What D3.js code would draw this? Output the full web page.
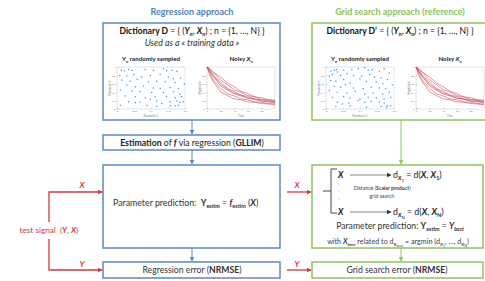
<!DOCTYPE html>
<html>
<head>
<meta charset="utf-8">
<script src="https://cdn.jsdelivr.net/npm/d3@7"></script>
<style>
  body { margin: 0; background: #fff; }
  svg text { font-family: Lato, "Open Sans", sans-serif; white-space: pre; }
</style>
</head>
<body>
<svg id="canvas" width="485" height="281"></svg>
<script>
// --- data ---
let titles = ['Regression approach', 'Grid search approach (reference)']
let scatterTicksX = [0, 0.05, 0.1, 0.15, 0.2]
let scatterTicksY = [0, 0.2, 0.4, 0.6, 0.8, 1]
let timeTicks = [0, 20, 40, 60, 80]
let ampTicks = [0, 0.2, 0.4, 0.6, 0.8, 1]
let times = [0, 5, 10, 20, 30, 40, 50, 60, 70, 80, 90, 100]
let curves = [
  [1.00, 0.86, 0.75, 0.55, 0.45, 0.36, 0.31, 0.26, 0.23, 0.19, 0.17, 0.15],
  [1.00, 0.91, 0.79, 0.64, 0.49, 0.42, 0.33, 0.30, 0.24, 0.22, 0.20, 0.17],
  [1.00, 0.82, 0.67, 0.49, 0.36, 0.31, 0.24, 0.22, 0.17, 0.16, 0.13, 0.12],
  [1.00, 0.93, 0.86, 0.69, 0.58, 0.46, 0.40, 0.32, 0.29, 0.23, 0.22, 0.19],
  [1.00, 0.77, 0.63, 0.41, 0.32, 0.24, 0.22, 0.17, 0.16, 0.13, 0.12, 0.10],
  [1.00, 0.95, 0.87, 0.76, 0.62, 0.53, 0.42, 0.37, 0.29, 0.27, 0.22, 0.21],
  [1.00, 0.88, 0.78, 0.59, 0.48, 0.38, 0.33, 0.26, 0.24, 0.19, 0.18, 0.16]
]
let pointsD = [
  [0.013, 0.92], [0.022, 0.91], [0.034, 0.94], [0.044, 0.92], [0.083, 0.94], [0.107, 0.92], [0.137, 0.96], [0.146, 0.91], [0.161, 0.92], [0.176, 0.90],
  [0.008, 0.80], [0.029, 0.79], [0.049, 0.82], [0.073, 0.76], [0.098, 0.80], [0.127, 0.82], [0.151, 0.76], [0.166, 0.72], [0.187, 0.74],
  [0.015, 0.69], [0.039, 0.66], [0.059, 0.71], [0.093, 0.65], [0.117, 0.66], [0.142, 0.65], [0.171, 0.63], [0.198, 0.59],
  [0.029, 0.57], [0.054, 0.53], [0.078, 0.55], [0.107, 0.50], [0.127, 0.49], [0.156, 0.51], [0.181, 0.49],
  [0.010, 0.45], [0.044, 0.43], [0.068, 0.41], [0.102, 0.39], [0.137, 0.39], [0.166, 0.41], [0.185, 0.35],
  [0.024, 0.31], [0.054, 0.29], [0.083, 0.27], [0.112, 0.30], [0.146, 0.29], [0.171, 0.27], [0.190, 0.29],
  [0.034, 0.17], [0.054, 0.15], [0.068, 0.16], [0.098, 0.23], [0.117, 0.19], [0.132, 0.13], [0.156, 0.17], [0.176, 0.19], [0.185, 0.16], [0.195, 0.17],
  [0.010, 0.09], [0.088, 0.09], [0.117, 0.06], [0.156, 0.08], [0.171, 0.08], [0.181, 0.09]
]
let pointsD2 = [
  [0.014, 0.90], [0.024, 0.92], [0.031, 0.94], [0.033, 0.88], [0.052, 0.92], [0.076, 0.94], [0.095, 0.96], [0.114, 0.98], [0.124, 0.92], [0.136, 0.94], [0.157, 0.90], [0.171, 0.96], [0.186, 0.86],
  [0.010, 0.78], [0.019, 0.82], [0.043, 0.80], [0.062, 0.84], [0.081, 0.80], [0.105, 0.78], [0.129, 0.82], [0.143, 0.76], [0.162, 0.74], [0.181, 0.70],
  [0.014, 0.68], [0.029, 0.66], [0.052, 0.70], [0.071, 0.62], [0.100, 0.72], [0.119, 0.66], [0.148, 0.64], [0.167, 0.60], [0.195, 0.58],
  [0.024, 0.54], [0.043, 0.52], [0.057, 0.58], [0.081, 0.50], [0.110, 0.48], [0.133, 0.52], [0.157, 0.50], [0.176, 0.48],
  [0.010, 0.44], [0.033, 0.40], [0.062, 0.38], [0.086, 0.42], [0.114, 0.36], [0.138, 0.38], [0.167, 0.36], [0.186, 0.40],
  [0.019, 0.28], [0.052, 0.30], [0.071, 0.26], [0.100, 0.24], [0.124, 0.28], [0.148, 0.26], [0.171, 0.24], [0.190, 0.28],
  [0.033, 0.16], [0.048, 0.12], [0.067, 0.14], [0.095, 0.20], [0.114, 0.16], [0.133, 0.18], [0.157, 0.16], [0.171, 0.14], [0.181, 0.08], [0.190, 0.08],
  [0.029, 0.06], [0.071, 0.08], [0.119, 0.04], [0.162, 0.06], [0.178, 0.04]
]

// --- colours ---
let blue = '#5b88c4'
let blueTitle = '#4f81bd'
let green = '#8fc563'
let greenTitle = '#8cc25c'
let red = '#d33a3f'
let dark = '#333'

let svg = d3.select('#canvas')
let defs = svg.append('defs')

let addMarker = (id, color) => {
  defs.append('marker')
    .attr('id', id)
    .attr('viewBox', '0 0 10 10')
    .attr('refX', 9).attr('refY', 5)
    .attr('markerUnits', 'userSpaceOnUse')
    .attr('markerWidth', 5).attr('markerHeight', 5)
    .attr('orient', 'auto')
    .append('path')
    .attr('d', 'M0,0 L10,5 L0,10 z')
    .attr('fill', color)
}
addMarker('arBlue', blue)
addMarker('arGreen', green)
addMarker('arRed', red)
addMarker('arDark', dark)

// rich text: segments of [text, style]; style letters b=bold i=italic 1=sub 2=subsub
let richText = (x, y, anchor, size, color, segs) => {
  let t = svg.append('text')
    .attr('x', x).attr('y', y)
    .attr('text-anchor', anchor)
    .attr('font-size', size)
    .attr('fill', color)
  let cur = 0
  segs.forEach(([s, st]) => {
    st = st || ''
    let lv = st.includes('2') ? 2 : (st.includes('1') ? 1 : 0)
    let shift = [0, size * 0.28, size * 0.48][lv]
    let fs = [size, size * 0.62, size * 0.5][lv]
    t.append('tspan')
      .attr('dy', shift - cur)
      .attr('font-size', fs)
      .attr('font-weight', st.includes('b') ? 'bold' : 'normal')
      .attr('font-style', st.includes('i') ? 'italic' : 'normal')
      .text(s)
    cur = shift
  })
  return t
}

let box = (x, y, w, h, color) => {
  svg.append('rect')
    .attr('x', x).attr('y', y)
    .attr('width', w).attr('height', h)
    .attr('fill', 'none')
    .attr('stroke', color)
    .attr('stroke-width', 1.5)
}

let arrow = (d, color, marker, width) => {
  svg.append('path')
    .attr('d', d)
    .attr('fill', 'none')
    .attr('stroke', color)
    .attr('stroke-width', width || 1)
    .attr('marker-end', 'url(#' + marker + ')')
}

// tiny matlab-like axes
let miniAxes = (x0, y0, w, h, xDom, yDom, xt, yt, xLab, yLab) => {
  let g = svg.append('g').attr('transform', 'translate(' + x0 + ',' + y0 + ')')
  let xs = d3.scaleLinear().domain(xDom).range([0, w])
  let ys = d3.scaleLinear().domain(yDom).range([h, 0])
  g.append('rect').attr('width', w).attr('height', h)
    .attr('fill', '#fff').attr('stroke', '#c8c8c8').attr('stroke-width', 0.5)
  let ax = g.append('g').attr('transform', 'translate(0,' + h + ')')
    .call(d3.axisBottom(xs).tickValues(xt).tickSize(-1.2).tickPadding(1.5).tickFormat(d3.format('~g')))
  let ay = g.append('g')
    .call(d3.axisLeft(ys).tickValues(yt).tickSize(-1.2).tickPadding(1.5).tickFormat(d3.format('~g')))
  ;[ax, ay].forEach(a => {
    a.select('.domain').remove()
    a.selectAll('line').attr('stroke', '#999').attr('stroke-width', 0.4)
    a.selectAll('text').attr('font-size', 2.6).attr('fill', '#777')
  })
  g.append('text').attr('x', w / 2).attr('y', h + 8)
    .attr('text-anchor', 'middle').attr('font-size', 2.8).attr('fill', '#777').text(xLab)
  g.append('text').attr('transform', 'translate(-6,' + (h / 2) + ') rotate(-90)')
    .attr('text-anchor', 'middle').attr('font-size', 2.8).attr('fill', '#777').text(yLab)
  return { g, xs, ys }
}

let topPanel = (bx, pts) => {
  let sc = miniAxes(bx + 14, 67, 68, 42, [0, 0.2], [0, 1], scatterTicksX, scatterTicksY, 'Parameter 1', 'Parameter 2')
  sc.g.selectAll('circle').data(pts).enter().append('circle')
    .attr('cx', d => sc.xs(d[0]))
    .attr('cy', d => sc.ys(d[1]))
    .attr('r', 0.75)
    .attr('fill', '#3d9be3')
  richText(bx + 48, 61, 'middle', 6.2, '#222', [['Y', 'b'], ['n', 'b1'], [' randomly sampled', 'b']])

  let nx = miniAxes(bx + 104, 67, 68, 42, [0, 100], [0, 1], timeTicks, ampTicks, 'Time', 'Magnitude')
  let line = d3.line().x((d, i) => nx.xs(times[i])).y(d => nx.ys(d))
  nx.g.selectAll('path.curve').data(curves).enter().append('path')
    .attr('class', 'curve')
    .attr('d', line)
    .attr('fill', 'none')
    .attr('stroke', '#c8505e')
    .attr('stroke-width', 0.6)
  richText(bx + 138, 61, 'middle', 6.2, '#222', [['Noisy ', 'b'], ['X', 'bi'], ['n', 'b1']])
}

// --- left column: regression approach ---
let L = 103, R = 312
svg.append('text').attr('x', 192).attr('y', 15).attr('text-anchor', 'middle')
  .attr('font-size', 9).attr('font-weight', 'bold').attr('fill', blueTitle).text(titles[0])
box(L, 23, 177, 97, blue)
richText(192, 34, 'middle', 8.6, '#111', [['Dictionary D', 'b'], [' = { ('], ['Y', 'bi'], ['n', 'bi1'], [', '], ['X', 'bi'], ['n', 'bi1'], [') ; n = {1, …, N} }']])
richText(192, 46, 'middle', 8.8, '#333', [['Used as a « training data »', 'i']])
topPanel(L, pointsD)

box(L, 135, 177, 15, blue)
richText(192, 145.5, 'middle', 8.7, '#222', [['Estimation', 'b'], [' of '], ['f', 'bi'], [' via regression ('], ['GLLIM', 'b'], [')']])

box(L, 165, 177, 83, blue)
richText(113, 206, 'start', 8.8, '#333', [['Parameter prediction:  '], ['Y', 'b'], ['estim', 'b1'], [' = '], ['f', 'bi'], ['estim', 'b1'], [' ('], ['X', 'bi'], [')']])

box(L, 262, 177, 16, blue)
richText(192, 273, 'middle', 8.7, '#333', [['Regression error ('], ['NRMSE', 'b'], [')']])

arrow('M192,120 V134', blue, 'arBlue')
arrow('M192,150 V164', blue, 'arBlue')
arrow('M192,248 V261', blue, 'arBlue')

// --- right column: grid search ---
svg.append('text').attr('x', 400).attr('y', 15).attr('text-anchor', 'middle')
  .attr('font-size', 9).attr('font-weight', 'bold').attr('fill', greenTitle).text(titles[1])
box(R, 23, 177, 97, green)
richText(400, 34, 'middle', 8.6, '#111', [['Dictionary D\u2019', 'b'], [' = { ('], ['Y', 'bi'], ['n', 'bi1'], [', '], ['X', 'bi'], ['n', 'bi1'], [') ; n = {1, …, N} }']])
topPanel(R, pointsD2)

box(R, 165, 171, 83, green)
// bracket
svg.append('path')
  .attr('d', 'M337,169 H331 V213 H337 M331,191 H323')
  .attr('fill', 'none').attr('stroke', dark).attr('stroke-width', 0.9)
richText(338, 178, 'start', 8.5, '#111', [['X', 'bi']])
arrow('M350,175 H391', dark, 'arDark', 0.6)
richText(393, 178, 'start', 8.8, '#222', [['d'], ['X', 'bi1'], ['1', '2'], [' = d('], ['X', 'bi'], [', '], ['X', 'bi'], ['1', 'b1'], [')']])
richText(338, 215, 'start', 8.5, '#111', [['X', 'bi']])
arrow('M350,212 H391', dark, 'arDark', 0.6)
richText(393, 215, 'start', 8.8, '#222', [['d'], ['X', 'bi1'], ['N', '2'], [' = d('], ['X', 'bi'], [', '], ['X', 'bi'], ['N', 'b1'], [')']])
;[184, 191, 199].forEach(y => {
  svg.append('circle').attr('cx', 339).attr('cy', y).attr('r', 0.45).attr('fill', '#666')
})
richText(382, 190, 'middle', 5.2, '#444', [['Distance ('], ['Scalar product', 'b'], [')']])
richText(382, 197.5, 'middle', 5.2, '#444', [['grid search']])
richText(400, 229, 'middle', 8.7, '#333', [['Parameter prediction: '], ['Y', 'b'], ['estim', 'b1'], [' = '], ['Y', 'bi'], ['best', 'bi1']])
richText(398, 244, 'middle', 7.2, '#444', [['with '], ['X', 'bi'], ['best', 'bi1'], [' related to d'], ['X', 'bi1'], ['best', '2'], [' = argmin (d'], ['X', 'bi1'], ['1', '2'], [', …, d'], ['X', 'bi1'], ['N', '2'], [')']])

box(R, 262, 171, 16, green)
richText(397, 273, 'middle', 8.7, '#333', [['Grid search error ('], ['NRMSE', 'b'], [')']])

arrow('M401,120 V164', green, 'arGreen')
arrow('M401,248 V261', green, 'arGreen')

// --- test signal (red) ---
arrow('M49,222 V192 H102', red, 'arRed', 1.3)
arrow('M49,239 V270 H102', red, 'arRed', 1.3)
arrow('M287,192 H311', red, 'arRed', 1.3)
arrow('M287,270 H311', red, 'arRed', 1.3)
richText(82, 188, 'middle', 8, red, [['X', 'bi']])
richText(82, 267, 'middle', 8, red, [['Y', 'bi']])
richText(297, 188, 'middle', 8, red, [['X', 'bi']])
richText(297, 267, 'middle', 8, red, [['Y', 'bi']])
richText(49, 233, 'middle', 8.2, red, [['test signal  ('], ['Y', 'bi'], [', '], ['X', 'bi'], [')']])
</script>
</body>
</html>
